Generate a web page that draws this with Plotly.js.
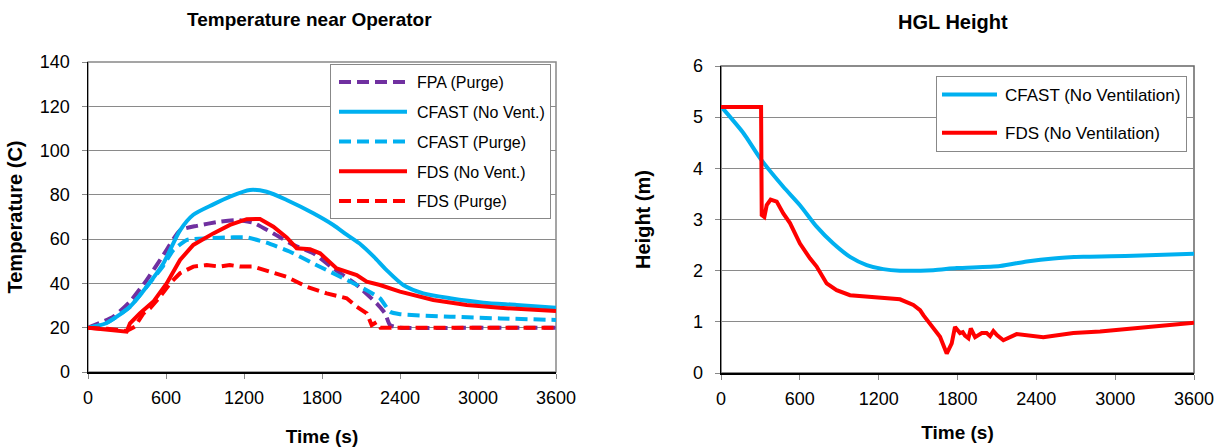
<!DOCTYPE html>
<html>
<head>
<meta charset="utf-8">
<script src="https://cdn.plot.ly/plotly-3.0.1.min.js"></script>
<style>html,body{margin:0;padding:0;background:#fff}#chart{width:1226px;height:448px}</style>
</head>
<body>
<div id="chart"></div>
<script>
// ---------- Left chart: Temperature near Operator ----------
const tFpaPurge = [0, 195, 323, 451, 579, 708, 836, 1015, 1144, 1272, 1426, 1580, 1733, 1887, 2067, 2220, 2285, 2323, 2400, 3000, 3600];
const fpaPurge  = [20, 25, 31.8, 41.5, 52.8, 64, 66, 67.9, 68.6, 67.4, 62.6, 57.4, 53.6, 46.8, 39.3, 31, 26.5, 21.2, 20, 20, 20];

const tCfastNoVent = [0, 139, 323, 451, 579, 708, 810, 964, 1092, 1246, 1374, 1528, 1733, 1887, 1990, 2100, 2200, 2297, 2425, 2579, 2785, 3041, 3297, 3600];
const cfastNoVent  = [20, 22, 29.5, 38.5, 49, 64, 71, 75.7, 79.2, 82.2, 81.4, 77.7, 71.7, 66.4, 62, 57.5, 52, 46, 39.3, 35.5, 33.3, 31.3, 30.3, 29];

const tCfastPurge = [0, 139, 323, 451, 579, 656, 759, 913, 1118, 1221, 1374, 1554, 1733, 1913, 2118, 2246, 2323, 2400, 2785, 3169, 3600];
const cfastPurge  = [20, 22, 29.5, 38.5, 48, 55, 59.6, 60.4, 60.8, 60.8, 58.4, 54.3, 49, 43.8, 37.8, 33.3, 27.2, 26.1, 25, 24.2, 23.5];

const tFdsNoVent = [0, 139, 297, 323, 400, 503, 605, 708, 810, 964, 1092, 1221, 1323, 1426, 1528, 1605, 1708, 1785, 1913, 2067, 2144, 2246, 2400, 2656, 2913, 3169, 3600];
const fdsNoVent  = [20, 19, 18.2, 22, 26.5, 31.8, 40, 50.6, 57.4, 62.6, 66.4, 69, 69.1, 65.6, 60.8, 55.9, 55.4, 53.6, 46.8, 43.8, 40.8, 39.3, 36.3, 32.5, 30.3, 29, 27.5];

const tFdsPurge = [0, 150, 297, 361, 426, 477, 554, 631, 708, 810, 913, 1015, 1090, 1169, 1272, 1374, 1528, 1682, 1836, 1990, 2067, 2144, 2182, 2220, 2250, 3000, 3600];
const fdsPurge  = [20, 19.5, 18.5, 20.5, 26.5, 28.8, 34, 40, 44.6, 47.6, 48.3, 47.6, 48.3, 47.6, 47.6, 45.8, 43, 38.5, 35.5, 33.3, 29.5, 26.5, 21.2, 22.5, 20, 20, 20];

// ---------- Right chart: HGL Height ----------
const tHglCfast = [0, 170, 297, 474, 601, 728, 855, 982, 1109, 1235, 1362, 1616, 1794, 2124, 2327, 2530, 2758, 3139, 3600];
const hglCfast  = [5.21, 4.69, 4.2, 3.64, 3.28, 2.86, 2.53, 2.27, 2.11, 2.03, 2.0, 2.01, 2.05, 2.09, 2.18, 2.24, 2.27, 2.29, 2.33];

const tHglFds = [0, 150, 305, 310, 330, 348, 378, 424, 474, 525, 601, 677, 728, 804, 880, 982, 1109, 1235, 1362, 1464, 1515, 1540, 1616, 1667, 1718, 1756, 1781, 1819, 1840, 1857, 1883, 1901, 1934, 1985, 2022, 2048, 2073, 2100, 2149, 2250, 2453, 2682, 2885, 3139, 3392, 3600];
const hglFds  = [5.2, 5.2, 5.2, 3.09, 3.05, 3.28, 3.39, 3.35, 3.12, 2.93, 2.53, 2.24, 2.08, 1.75, 1.62, 1.52, 1.49, 1.46, 1.44, 1.33, 1.23, 1.13, 0.87, 0.71, 0.38, 0.58, 0.9, 0.78, 0.8, 0.73, 0.68, 0.87, 0.7, 0.78, 0.78, 0.72, 0.82, 0.74, 0.64, 0.76, 0.7, 0.78, 0.81, 0.87, 0.94, 0.98];

const xTicks = [0, 600, 1200, 1800, 2400, 3000, 3600];
const tempTicks = [0, 20, 40, 60, 80, 100, 120, 140];
const hglTicks = [0, 1, 2, 3, 4, 5, 6];

const PURPLE = '#7030A0', BLUE = '#00B0F0', RED = '#FF0000';
const DASH = '12px,6px';
const FONT = 'Liberation Sans, Arial, sans-serif';

function line(x, y, name, color, dash, smooth, xa, ya, legend, group) {
  return {x, y, name, type: 'scatter', mode: 'lines', xaxis: xa, yaxis: ya,
    legend, legendgroup: group,
    line: {color, width: 4, dash: dash || 'solid', shape: smooth ? 'spline' : 'linear', smoothing: smooth || 0},
    hoverinfo: 'skip'};
}

const traces = [
  line(tFpaPurge, fpaPurge, 'FPA (Purge)', PURPLE, DASH, 0.5, 'x', 'y', 'legend', 'a'),
  line(tCfastNoVent, cfastNoVent, 'CFAST (No Vent.)', BLUE, null, 0.7, 'x', 'y', 'legend', 'b'),
  line(tCfastPurge, cfastPurge, 'CFAST (Purge)', BLUE, DASH, 0.5, 'x', 'y', 'legend', 'c'),
  line(tFdsNoVent, fdsNoVent, 'FDS (No Vent.)', RED, null, 0, 'x', 'y', 'legend', 'd'),
  line(tFdsPurge, fdsPurge, 'FDS (Purge)', RED, DASH, 0, 'x', 'y', 'legend', 'e'),
  line(tHglCfast, hglCfast, 'CFAST (No Ventilation)', BLUE, null, 0.7, 'x2', 'y2', 'legend2', 'f'),
  line(tHglFds, hglFds, 'FDS (No Ventilation)', RED, null, 0, 'x2', 'y2', 'legend2', 'g')
];

const W = 1226, H = 448;
const px = v => v / W, py = v => 1 - v / H;

function xAxis(domain, anchor, standoff) {
  return {domain, anchor, range: [0, 3600], tickvals: xTicks, ticktext: xTicks.map(String),
    showgrid: false, zeroline: false, showline: true, linecolor: '#000', linewidth: 1.5,
    ticks: 'outside', ticklen: 5, tickcolor: '#888', tickwidth: 1, ticklabelstandoff: 4,
    tickfont: {family: FONT, size: 18, color: '#000'},
    title: {text: '<b>Time (s)</b>', font: {family: FONT, size: 19, color: '#000'}, standoff}};
}
function yAxis(domain, anchor, range, ticks, title, standoff) {
  return {domain, anchor, range, tickvals: ticks, ticktext: ticks.map(String),
    showgrid: true, gridcolor: '#8a8a8a', gridwidth: 1, zeroline: false,
    showline: true, linecolor: '#000', linewidth: 1.5,
    ticks: 'outside', ticklen: 5, tickcolor: '#888', tickwidth: 1, ticklabelstandoff: 8,
    tickfont: {family: FONT, size: 18, color: '#000'},
    title: {text: '<b>' + title + '</b>', font: {family: FONT, size: 20, color: '#000'}, standoff}};
}

const layout = {
  width: W, height: H, margin: {l: 0, r: 0, t: 0, b: 0},
  paper_bgcolor: '#fff', plot_bgcolor: '#fff', showlegend: true,
  xaxis: xAxis([px(88), px(556)], 'y', 22),
  yaxis: yAxis([py(372), py(62)], 'x', [0, 140], tempTicks, 'Temperature (C)', 12),
  xaxis2: xAxis([px(721), px(1194)], 'y2', 17),
  yaxis2: yAxis([py(373), py(66)], 'x2', [0, 6], hglTicks, 'Height (m)', 37),
  legend: {x: px(330), y: py(64), xanchor: 'left', yanchor: 'top', bgcolor: '#fff',
    bordercolor: '#888', borderwidth: 1, font: {family: FONT, size: 16, color: '#000'},
    tracegroupgap: 6, itemwidth: 76, traceorder: 'grouped'},
  legend2: {x: px(936), y: py(76), xanchor: 'left', yanchor: 'top', bgcolor: '#fff',
    bordercolor: '#888', borderwidth: 1, font: {family: FONT, size: 17, color: '#000'},
    tracegroupgap: 13, itemwidth: 58, traceorder: 'grouped'},
  shapes: [
    {type: 'rect', xref: 'x domain', yref: 'y domain', x0: 0, x1: 1, y0: 0, y1: 1, line: {color: '#888', width: 1.5}, layer: 'below'},
    {type: 'rect', xref: 'x2 domain', yref: 'y2 domain', x0: 0, x1: 1, y0: 0, y1: 1, line: {color: '#666', width: 1.5}, layer: 'below'}
  ],
  annotations: [
    {text: '<b>Temperature near Operator</b>', xref: 'paper', yref: 'paper', x: px(309), y: py(19), xanchor: 'center', yanchor: 'middle', showarrow: false, font: {family: FONT, size: 19, color: '#000'}},
    {text: '<b>HGL Height</b>', xref: 'paper', yref: 'paper', x: px(953), y: py(22), xanchor: 'center', yanchor: 'middle', showarrow: false, font: {family: FONT, size: 20, color: '#000'}}
  ]
};

Plotly.newPlot('chart', traces, layout, {displayModeBar: false, staticPlot: true}).then(gd => {
  // lengthen the legend line samples to match the reference's long swatches
  gd.querySelectorAll('.legendlines path').forEach(p => {
    const left = p.getBoundingClientRect().left < 700;
    p.setAttribute('d', left ? 'M8,0h68' : 'M5,0h55');
  });
});
</script>
</body>
</html>
